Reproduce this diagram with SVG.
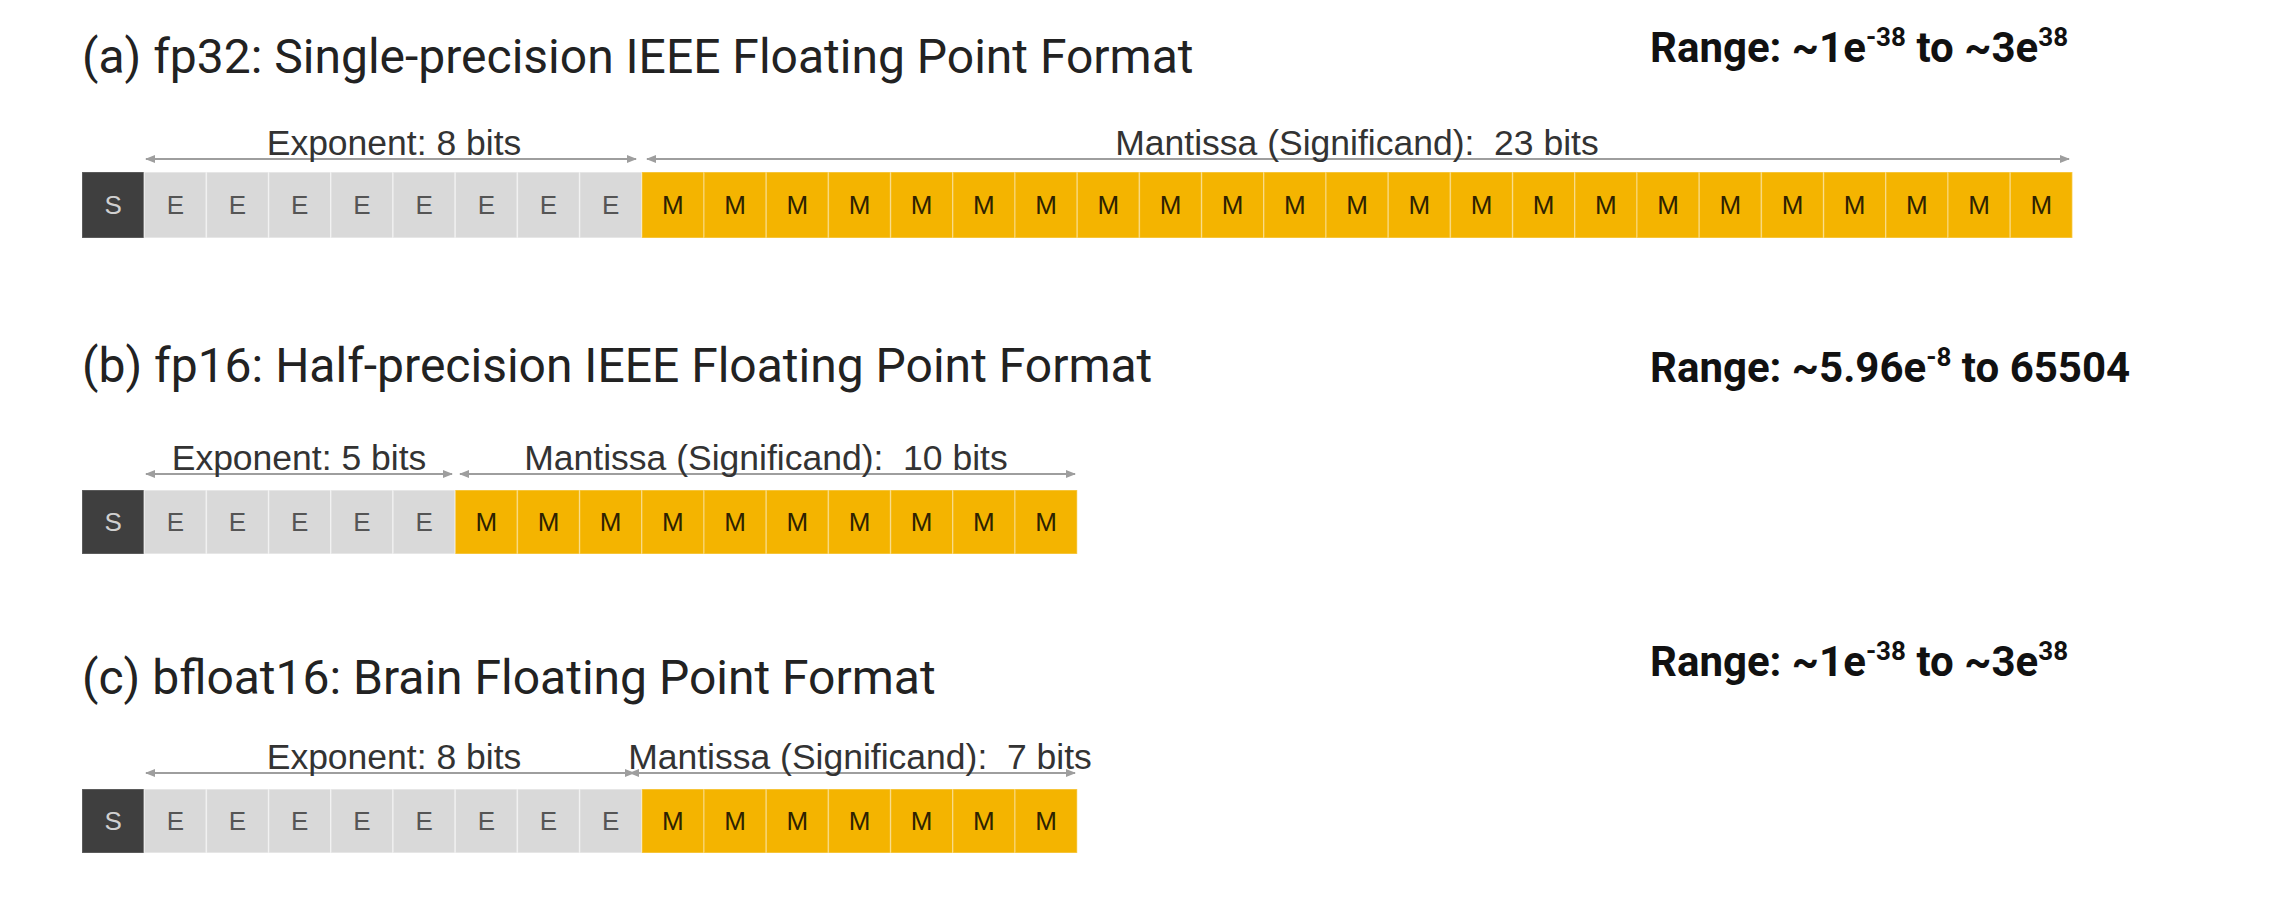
<svg xmlns="http://www.w3.org/2000/svg" width="2288" height="900" viewBox="0 0 2288 900">
<defs>
<style>
.title{font-family:Roboto,"Liberation Sans",sans-serif;font-size:48px;fill:#222222}
.range{font-family:Roboto,"Liberation Sans",sans-serif;font-size:42px;font-weight:bold;fill:#111111}
.sup{font-size:26px}
.lbl{font-family:"Liberation Sans",Arial,sans-serif;font-size:35.5px;fill:#333333;white-space:pre}
.s{fill:#3f3f3f;stroke:#ffffff;stroke-opacity:0.2;stroke-width:1.5}
.e{fill:#d9d9d9;stroke:#ffffff;stroke-opacity:0.45;stroke-width:1.5}
.m{fill:#f4b400;stroke:#ffffff;stroke-opacity:0.3;stroke-width:1.5}
.ts{font-family:"Liberation Sans",Arial,sans-serif;font-size:26px;fill:#d0d0d0;text-anchor:middle}
.te{font-family:"Liberation Sans",Arial,sans-serif;font-size:26px;fill:#555555;text-anchor:middle}
.tm{font-family:"Liberation Sans",Arial,sans-serif;font-size:26px;fill:#2e2200;text-anchor:middle}
.arr{stroke:#9e9e9e;stroke-width:2;fill:none;marker-start:url(#ah);marker-end:url(#ah)}
</style>
<marker id="ah" viewBox="0 0 10 10" refX="9" refY="5" markerWidth="10" markerHeight="10" markerUnits="userSpaceOnUse" orient="auto-start-reverse">
<path d="M0,1 L10,5 L0,9 z" fill="#9e9e9e"/>
</marker>
</defs>
<rect width="2288" height="900" fill="#ffffff"/>

<g id="connectors">
<line class="arr" x1="146" y1="159" x2="636" y2="159"/>
<line class="arr" x1="647" y1="159" x2="2069" y2="159"/>
<line class="arr" x1="146" y1="474" x2="452" y2="474"/>
<line class="arr" x1="460" y1="474" x2="1075" y2="474"/>
<line class="arr" x1="146" y1="773" x2="634" y2="773"/>
<line class="arr" x1="630" y1="773" x2="1075" y2="773"/>
</g>

<g id="fp32">
<text class="title" x="82" y="73">(a) fp32: Single-precision IEEE Floating Point Format</text>
<text class="range" x="1650" y="62">Range: ~1e<tspan class="sup" dy="-16">-38</tspan><tspan dy="16"> to ~3e</tspan><tspan class="sup" dy="-16">38</tspan></text>
<text class="lbl" x="394" y="155" text-anchor="middle">Exponent: 8 bits</text>
<text class="lbl" x="1357" y="155" text-anchor="middle" xml:space="preserve">Mantissa (Significand):  23 bits</text>
<rect class="s" x="82" y="172" width="62.2" height="66"/>
<rect class="e" x="144.2" y="172" width="62.2" height="66"/>
<rect class="e" x="206.4" y="172" width="62.2" height="66"/>
<rect class="e" x="268.6" y="172" width="62.2" height="66"/>
<rect class="e" x="330.8" y="172" width="62.2" height="66"/>
<rect class="e" x="393" y="172" width="62.2" height="66"/>
<rect class="e" x="455.2" y="172" width="62.2" height="66"/>
<rect class="e" x="517.4" y="172" width="62.2" height="66"/>
<rect class="e" x="579.6" y="172" width="62.2" height="66"/>
<rect class="m" x="641.8" y="172" width="62.2" height="66"/>
<rect class="m" x="704" y="172" width="62.2" height="66"/>
<rect class="m" x="766.2" y="172" width="62.2" height="66"/>
<rect class="m" x="828.4" y="172" width="62.2" height="66"/>
<rect class="m" x="890.6" y="172" width="62.2" height="66"/>
<rect class="m" x="952.8" y="172" width="62.2" height="66"/>
<rect class="m" x="1015" y="172" width="62.2" height="66"/>
<rect class="m" x="1077.2" y="172" width="62.2" height="66"/>
<rect class="m" x="1139.4" y="172" width="62.2" height="66"/>
<rect class="m" x="1201.6" y="172" width="62.2" height="66"/>
<rect class="m" x="1263.8" y="172" width="62.2" height="66"/>
<rect class="m" x="1326" y="172" width="62.2" height="66"/>
<rect class="m" x="1388.2" y="172" width="62.2" height="66"/>
<rect class="m" x="1450.4" y="172" width="62.2" height="66"/>
<rect class="m" x="1512.6" y="172" width="62.2" height="66"/>
<rect class="m" x="1574.8" y="172" width="62.2" height="66"/>
<rect class="m" x="1637" y="172" width="62.2" height="66"/>
<rect class="m" x="1699.2" y="172" width="62.2" height="66"/>
<rect class="m" x="1761.4" y="172" width="62.2" height="66"/>
<rect class="m" x="1823.6" y="172" width="62.2" height="66"/>
<rect class="m" x="1885.8" y="172" width="62.2" height="66"/>
<rect class="m" x="1948" y="172" width="62.2" height="66"/>
<rect class="m" x="2010.2" y="172" width="62.2" height="66"/>
<text class="ts" x="113.1" y="214">S</text>
<text class="te" x="175.3" y="214">E</text>
<text class="te" x="237.5" y="214">E</text>
<text class="te" x="299.7" y="214">E</text>
<text class="te" x="361.9" y="214">E</text>
<text class="te" x="424.1" y="214">E</text>
<text class="te" x="486.3" y="214">E</text>
<text class="te" x="548.5" y="214">E</text>
<text class="te" x="610.7" y="214">E</text>
<text class="tm" x="672.9" y="214">M</text>
<text class="tm" x="735.1" y="214">M</text>
<text class="tm" x="797.3" y="214">M</text>
<text class="tm" x="859.5" y="214">M</text>
<text class="tm" x="921.7" y="214">M</text>
<text class="tm" x="983.9" y="214">M</text>
<text class="tm" x="1046.1" y="214">M</text>
<text class="tm" x="1108.3" y="214">M</text>
<text class="tm" x="1170.5" y="214">M</text>
<text class="tm" x="1232.7" y="214">M</text>
<text class="tm" x="1294.9" y="214">M</text>
<text class="tm" x="1357.1" y="214">M</text>
<text class="tm" x="1419.3" y="214">M</text>
<text class="tm" x="1481.5" y="214">M</text>
<text class="tm" x="1543.7" y="214">M</text>
<text class="tm" x="1605.9" y="214">M</text>
<text class="tm" x="1668.1" y="214">M</text>
<text class="tm" x="1730.3" y="214">M</text>
<text class="tm" x="1792.5" y="214">M</text>
<text class="tm" x="1854.7" y="214">M</text>
<text class="tm" x="1916.9" y="214">M</text>
<text class="tm" x="1979.1" y="214">M</text>
<text class="tm" x="2041.3" y="214">M</text>
</g>

<g id="fp16">
<text class="title" x="82" y="382">(b) fp16: Half-precision IEEE Floating Point Format</text>
<text class="range" x="1650" y="382">Range: ~5.96e<tspan class="sup" dy="-16">-8</tspan><tspan dy="16"> to 65504</tspan></text>
<text class="lbl" x="299" y="470" text-anchor="middle">Exponent: 5 bits</text>
<text class="lbl" x="766" y="470" text-anchor="middle" xml:space="preserve">Mantissa (Significand):  10 bits</text>
<rect class="s" x="82" y="490" width="62.2" height="64"/>
<rect class="e" x="144.2" y="490" width="62.2" height="64"/>
<rect class="e" x="206.4" y="490" width="62.2" height="64"/>
<rect class="e" x="268.6" y="490" width="62.2" height="64"/>
<rect class="e" x="330.8" y="490" width="62.2" height="64"/>
<rect class="e" x="393" y="490" width="62.2" height="64"/>
<rect class="m" x="455.2" y="490" width="62.2" height="64"/>
<rect class="m" x="517.4" y="490" width="62.2" height="64"/>
<rect class="m" x="579.6" y="490" width="62.2" height="64"/>
<rect class="m" x="641.8" y="490" width="62.2" height="64"/>
<rect class="m" x="704" y="490" width="62.2" height="64"/>
<rect class="m" x="766.2" y="490" width="62.2" height="64"/>
<rect class="m" x="828.4" y="490" width="62.2" height="64"/>
<rect class="m" x="890.6" y="490" width="62.2" height="64"/>
<rect class="m" x="952.8" y="490" width="62.2" height="64"/>
<rect class="m" x="1015" y="490" width="62.2" height="64"/>
<text class="ts" x="113.1" y="531">S</text>
<text class="te" x="175.3" y="531">E</text>
<text class="te" x="237.5" y="531">E</text>
<text class="te" x="299.7" y="531">E</text>
<text class="te" x="361.9" y="531">E</text>
<text class="te" x="424.1" y="531">E</text>
<text class="tm" x="486.3" y="531">M</text>
<text class="tm" x="548.5" y="531">M</text>
<text class="tm" x="610.7" y="531">M</text>
<text class="tm" x="672.9" y="531">M</text>
<text class="tm" x="735.1" y="531">M</text>
<text class="tm" x="797.3" y="531">M</text>
<text class="tm" x="859.5" y="531">M</text>
<text class="tm" x="921.7" y="531">M</text>
<text class="tm" x="983.9" y="531">M</text>
<text class="tm" x="1046.1" y="531">M</text>
</g>

<g id="bfloat16">
<text class="title" x="82" y="694">(c) bfloat16: Brain Floating Point Format</text>
<text class="range" x="1650" y="676">Range: ~1e<tspan class="sup" dy="-16">-38</tspan><tspan dy="16"> to ~3e</tspan><tspan class="sup" dy="-16">38</tspan></text>
<text class="lbl" x="394" y="769" text-anchor="middle">Exponent: 8 bits</text>
<text class="lbl" x="860" y="769" text-anchor="middle" xml:space="preserve">Mantissa (Significand):  7 bits</text>
<rect class="s" x="82" y="789" width="62.2" height="64"/>
<rect class="e" x="144.2" y="789" width="62.2" height="64"/>
<rect class="e" x="206.4" y="789" width="62.2" height="64"/>
<rect class="e" x="268.6" y="789" width="62.2" height="64"/>
<rect class="e" x="330.8" y="789" width="62.2" height="64"/>
<rect class="e" x="393" y="789" width="62.2" height="64"/>
<rect class="e" x="455.2" y="789" width="62.2" height="64"/>
<rect class="e" x="517.4" y="789" width="62.2" height="64"/>
<rect class="e" x="579.6" y="789" width="62.2" height="64"/>
<rect class="m" x="641.8" y="789" width="62.2" height="64"/>
<rect class="m" x="704" y="789" width="62.2" height="64"/>
<rect class="m" x="766.2" y="789" width="62.2" height="64"/>
<rect class="m" x="828.4" y="789" width="62.2" height="64"/>
<rect class="m" x="890.6" y="789" width="62.2" height="64"/>
<rect class="m" x="952.8" y="789" width="62.2" height="64"/>
<rect class="m" x="1015" y="789" width="62.2" height="64"/>
<text class="ts" x="113.1" y="830">S</text>
<text class="te" x="175.3" y="830">E</text>
<text class="te" x="237.5" y="830">E</text>
<text class="te" x="299.7" y="830">E</text>
<text class="te" x="361.9" y="830">E</text>
<text class="te" x="424.1" y="830">E</text>
<text class="te" x="486.3" y="830">E</text>
<text class="te" x="548.5" y="830">E</text>
<text class="te" x="610.7" y="830">E</text>
<text class="tm" x="672.9" y="830">M</text>
<text class="tm" x="735.1" y="830">M</text>
<text class="tm" x="797.3" y="830">M</text>
<text class="tm" x="859.5" y="830">M</text>
<text class="tm" x="921.7" y="830">M</text>
<text class="tm" x="983.9" y="830">M</text>
<text class="tm" x="1046.1" y="830">M</text>
</g>
</svg>
